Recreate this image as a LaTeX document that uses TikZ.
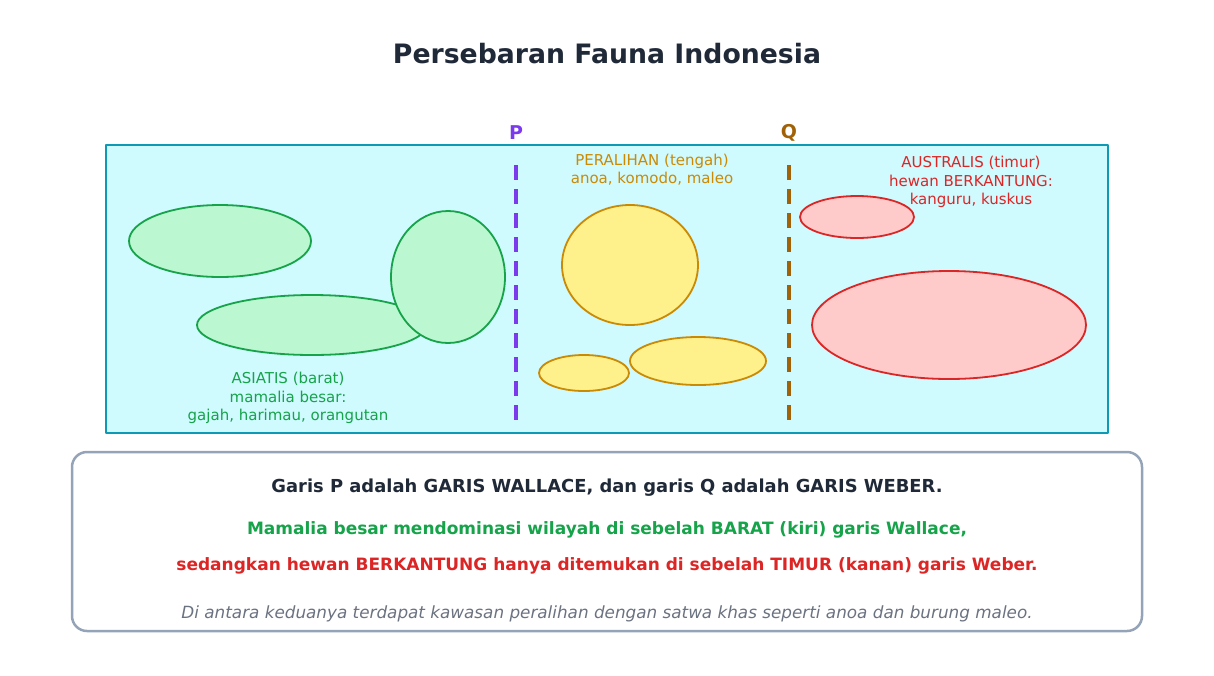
\documentclass[tikz,border=0pt]{standalone}
\usepackage{fontspec}
\setmainfont{DejaVu Sans}
\usepackage{tikz}
\usetikzlibrary{shapes.geometric}

\definecolor{titleink}{HTML}{1F2937}
\definecolor{mapfill}{HTML}{CFFAFE}
\definecolor{mapline}{HTML}{0E9AB5}
\definecolor{wallace}{HTML}{7C3AED}
\definecolor{weber}{HTML}{A16207}
\definecolor{asiaink}{HTML}{16A34A}
\definecolor{asiafill}{HTML}{BBF7D0}
\definecolor{midink}{HTML}{CA8A04}
\definecolor{midfill}{HTML}{FEF08A}
\definecolor{ausink}{HTML}{DC2626}
\definecolor{ausfill}{HTML}{FECACA}
\definecolor{noteline}{HTML}{94A3B8}
\definecolor{noteink}{HTML}{6B7280}

\begin{document}
\begin{tikzpicture}[x=1pt, y=-1pt, line cap = round, line join = round]
\tikzstyle{asia}=[ellipse, draw=asiaink, fill=asiafill, line width=1.8pt, inner sep=0pt]
\tikzstyle{mid}=[ellipse, draw=midink, fill=midfill, line width=1.8pt, inner sep=0pt]
\tikzstyle{aus}=[ellipse, draw=ausink, fill=ausfill, line width=1.8pt, inner sep=0pt]
\tikzstyle{region}=[align=center, font=\fontsize{15}{18.3}\selectfont]
\tikzstyle{noteline}=[font=\fontsize{17}{21}\selectfont\bfseries]
\tikzstyle{garis}=[line width=4.5pt, line cap=butt, dash pattern=on 15pt off 9pt]
\useasboundingbox (0,0) rectangle (1214,675);

\node[titleink, font=\fontsize{26.7}{31}\selectfont\bfseries] (title) at (607,54) {Persebaran Fauna Indonesia};

% peta
\draw[draw=mapline, fill=mapfill, line width=2.2pt] (106,145) rectangle (1108,433);

% pulau barat
\node[asia, minimum width=182pt, minimum height=72pt] (sumatra) at (220,241) {};
\node[asia, minimum width=230pt, minimum height=60pt] (jawa) at (312,325) {};
\node[asia, minimum width=114pt, minimum height=132pt] (kalimantan) at (448,277) {};
% pulau tengah
\node[mid, minimum width=136pt, minimum height=120pt] (sulawesi) at (630,265) {};
\node[mid, minimum width=90pt, minimum height=36pt] (nusa1) at (584,373) {};
\node[mid, minimum width=136pt, minimum height=48pt] (nusa2) at (698,361) {};
% pulau timur
\node[aus, minimum width=114pt, minimum height=42pt] (maluku) at (857,217) {};
\node[aus, minimum width=274pt, minimum height=108pt] (papua) at (949,325) {};

% garis P dan Q
\coordinate (P top) at (516,165);
\coordinate (P bottom) at (516,421);
\coordinate (Q top) at (789,165);
\coordinate (Q bottom) at (789,421);
\draw[garis, wallace] (P top) -- (P bottom);
\draw[garis, weber] (Q top) -- (Q bottom);
\node[wallace, font=\fontsize{19}{22}\selectfont\bfseries] (P) at (516,133) {P};
\node[weber, font=\fontsize{19}{22}\selectfont\bfseries] (Q) at (789,133) {Q};

\node[region, asiaink] (asiatis) at (288,398) {ASIATIS (barat)\\mamalia besar:\\gajah, harimau, orangutan};
\node[region, midink] (peralihan) at (652,170) {PERALIHAN (tengah)\\anoa, komodo, maleo};
\node[region, ausink] (australis) at (971,182) {AUSTRALIS (timur)\\hewan BERKANTUNG:\\kanguru, kuskus};

% keterangan
\draw[draw=noteline, fill=white, line width=2.5pt, rounded corners=15pt] (72,452) rectangle (1142,631);
\node[noteline, titleink, font=\fontsize{17.9}{21}\selectfont\bfseries] (line1) at (607,488) {Garis P adalah GARIS WALLACE, dan garis Q adalah GARIS WEBER.};
\node[noteline, asiaink] (line2) at (607,530) {Mamalia besar mendominasi wilayah di sebelah BARAT (kiri) garis Wallace,};
\node[noteline, ausink] (line3) at (607,566) {sedangkan hewan BERKANTUNG hanya ditemukan di sebelah TIMUR (kanan) garis Weber.};
\node[noteink, font=\fontsize{16.8}{20}\selectfont\itshape] (line4) at (607,614) {Di antara keduanya terdapat kawasan peralihan dengan satwa khas seperti anoa dan burung maleo.};
\end{tikzpicture}
\end{document}
